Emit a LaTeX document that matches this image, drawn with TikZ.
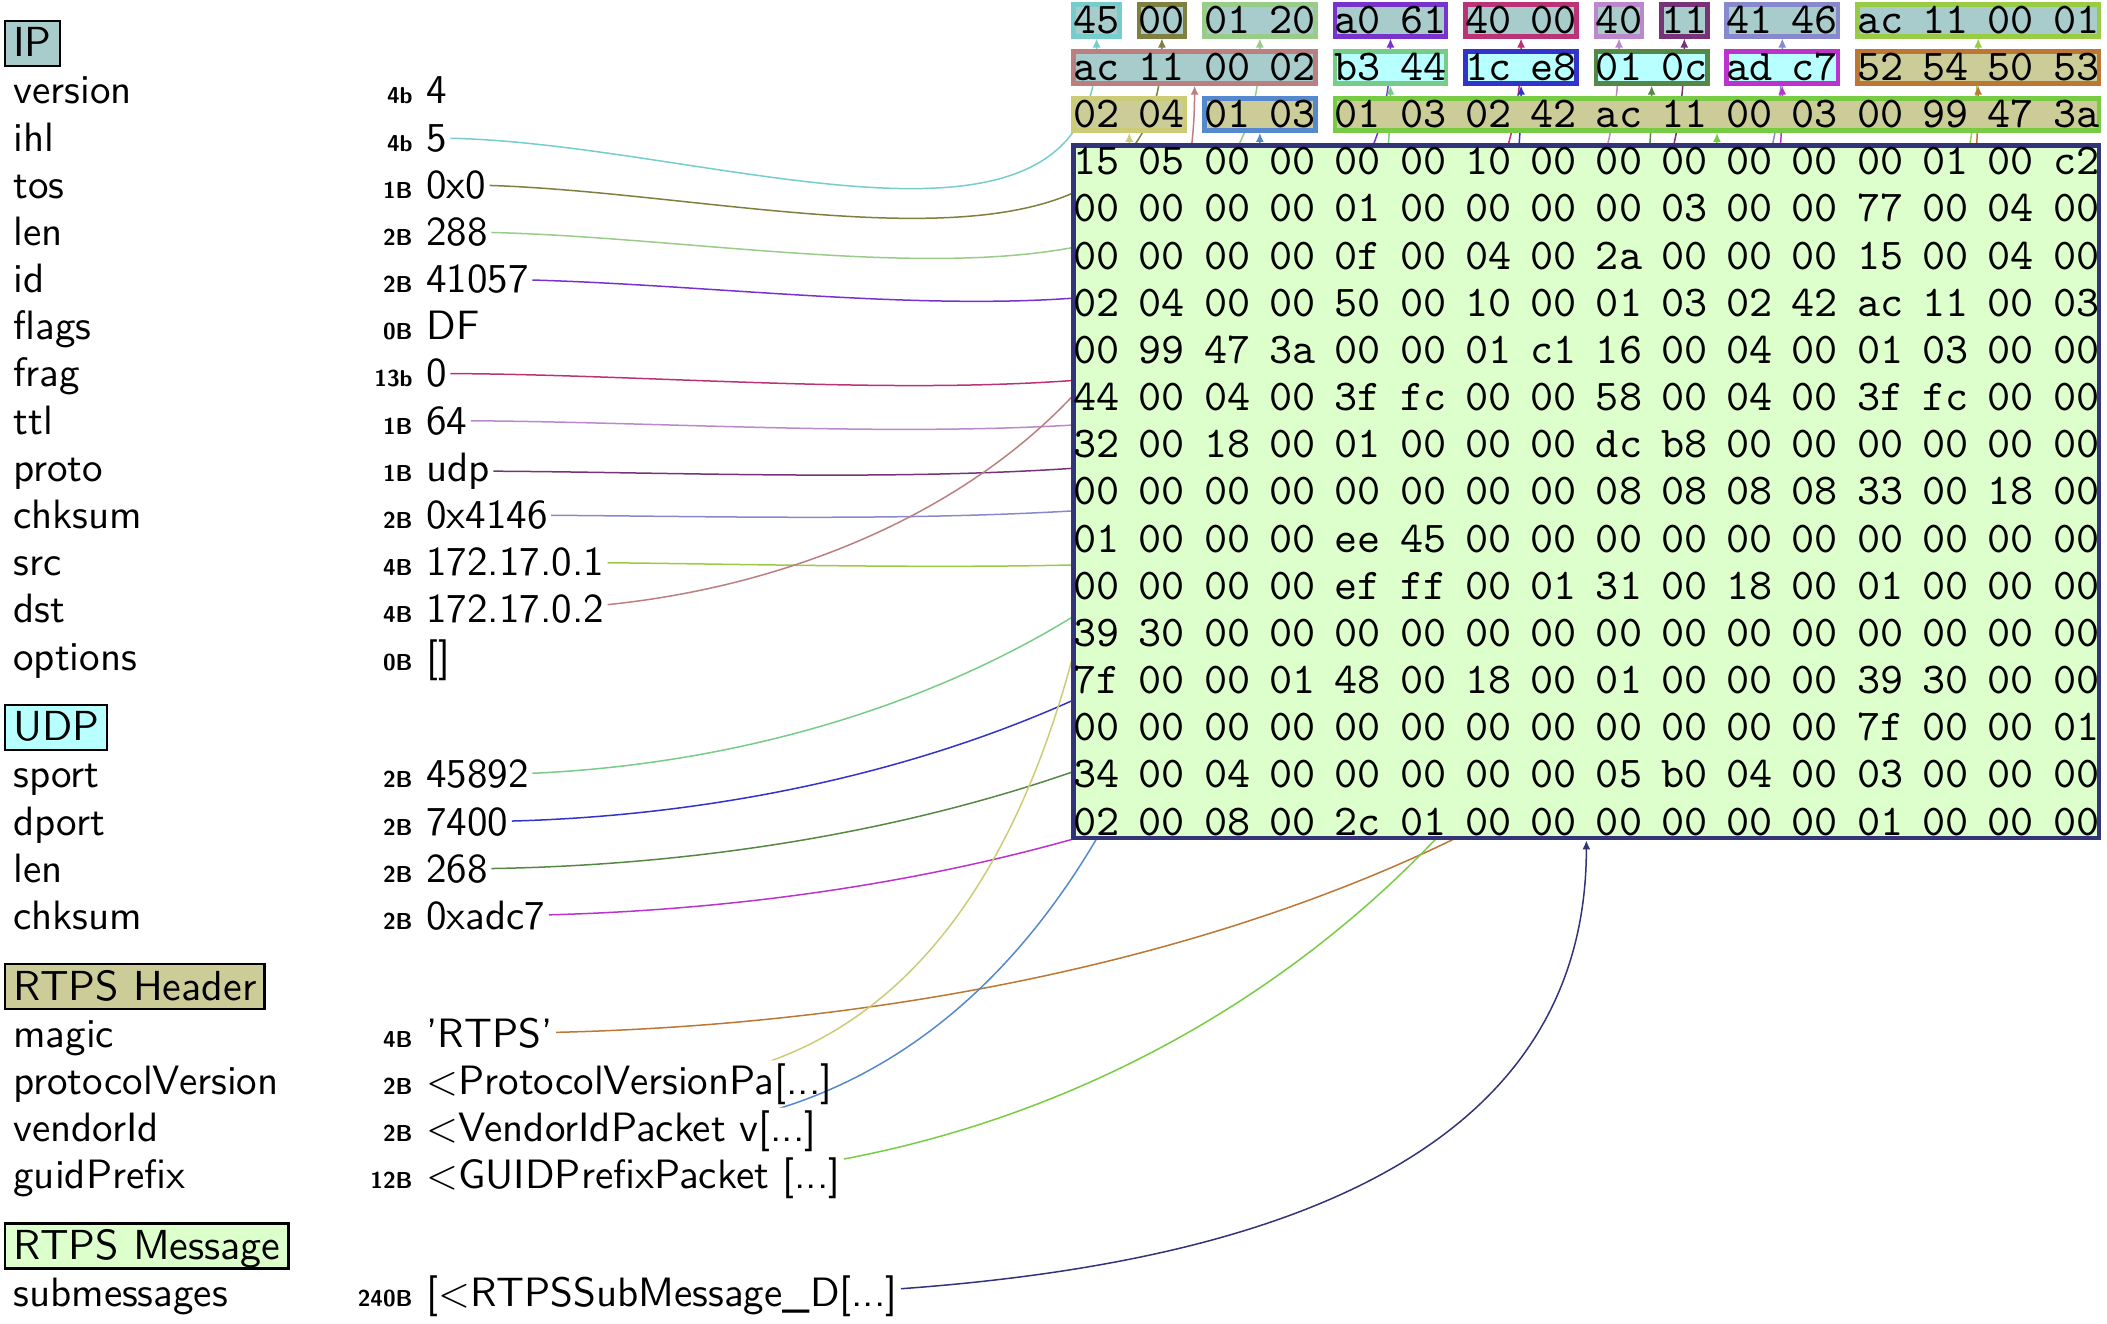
\documentclass[tikz,border=0pt]{standalone}
\usepackage{graphicx}
\usetikzlibrary{arrows.meta,backgrounds}
\definecolor{IpFill}{HTML}{A8CCCC}
\definecolor{UdpFill}{HTML}{B8FFFF}
\definecolor{HdrFill}{HTML}{CCCC99}
\definecolor{MsgFill}{HTML}{DDFFCC}
\definecolor{ColIhl}{HTML}{77CCCC}
\definecolor{ColTos}{HTML}{7F7F3F}
\definecolor{ColLen}{HTML}{99CC88}
\definecolor{ColId}{HTML}{7733CC}
\definecolor{ColFrag}{HTML}{BB3377}
\definecolor{ColTtl}{HTML}{BB88CC}
\definecolor{ColProto}{HTML}{773377}
\definecolor{ColChk}{HTML}{8888CC}
\definecolor{ColSrc}{HTML}{99CC44}
\definecolor{ColDst}{HTML}{BB7F7F}
\definecolor{ColSport}{HTML}{77CC88}
\definecolor{ColDport}{HTML}{3333CC}
\definecolor{ColUlen}{HTML}{558844}
\definecolor{ColUchk}{HTML}{BB33CC}
\definecolor{ColMagic}{HTML}{BB7733}
\definecolor{ColPver}{HTML}{CCCC77}
\definecolor{ColVend}{HTML}{5588CC}
\definecolor{ColGuid}{HTML}{77CC44}
\definecolor{ColSubm}{HTML}{333377}

% grid of the dump (one unit = one pixel)
\newcommand{\rowy}[1]{-(20.2+47.17*(#1))}
\newcommand{\rowb}[1]{-(33.2+47.17*(#1))}
\newcommand{\colx}[1]{(1096.6+65.3*(#1))}
% 10pt designs, blown up
\newcommand{\dumptxt}[1]{\scalebox{2.2}{#1}}
\newcommand{\labtxt}[1]{\scalebox{2.05}{#1}}
\newcommand{\layertxt}[1]{\scalebox{2.1}{#1}}

% frame round the bytes of one field: name, rows, columns, colour, fill
\newcommand{\hexfield}[7]{%
  \node[hexbox,draw=#6,fill=#7,
    minimum width={(32.65*(#5-#4)+23)*1pt},
    minimum height={(23.585*(#3-#2)+16)*1pt}]
    (h-#1) at ({\colx{(#4+#5)/2}},{\rowy{(#2+#3)/2}}) {};}

\tikzset{
  hexbox/.style={rectangle,line width=2.3pt,inner sep=0pt},
  hexbyte/.style={font=\ttfamily\fontsize{10}{10}\selectfont,anchor=base,inner sep=0pt},
  fieldname/.style={font=\sffamily\fontsize{10}{12}\selectfont,anchor=base west,inner sep=0pt},
  fieldsize/.style={font=\sffamily\bfseries\fontsize{11.5}{12}\selectfont,anchor=base east,inner sep=0pt},
  fieldval/.style={font=\sffamily\fontsize{10}{12}\selectfont,anchor=base west,inner sep=1.5pt},
  layertitle/.style={font=\sffamily\fontsize{10}{12}\selectfont,anchor=base west,draw=black,
    line width=1.2pt,inner xsep=4pt,inner ysep=0.5pt,text height=17.5pt,text depth=4pt},
  link/.style={line width=0.75pt,-{Latex[length=4.5pt,width=4pt]}}
}

\begin{document}
\begin{tikzpicture}[x=0.5pt,y=0.5pt]
  \useasboundingbox (0,0) rectangle (2107,-1323);

  % layers
  \node[layertitle,fill=IpFill] (t-ip) at (4,{\rowb{0.5}}) {\layertxt{IP}};
  \node[layertitle,fill=UdpFill] (t-udp) at (4,{\rowb{15}}) {\layertxt{UDP}};
  \node[layertitle,fill=HdrFill] (t-hdr) at (4,{\rowb{20.5}}) {\layertxt{RTPS Header}};
  \node[layertitle,fill=MsgFill] (t-msg) at (4,{\rowb{26}}) {\layertxt{RTPS Message}};

  % fields
  \foreach \krow/\fname/\fsize/\fval/\id in {
      1.5/version/4b/4/version, 2.5/ihl/4b/5/ihl, 3.5/tos/1B/0x0/tos,
      4.5/len/2B/288/len, 5.5/id/2B/41057/id, 6.5/flags/0B/DF/flags,
      7.5/frag/13b/0/frag, 8.5/ttl/1B/64/ttl, 9.5/proto/1B/udp/proto,
      10.5/chksum/2B/0x4146/chksum, 11.5/src/4B/172.17.0.1/src,
      12.5/dst/4B/172.17.0.2/dst, 13.5/options/0B/{[]}/options,
      16/sport/2B/45892/sport, 17/dport/2B/7400/dport,
      18/len/2B/268/ulen, 19/chksum/2B/0xadc7/uchk,
      21.5/magic/4B/{'RTPS'}/magic,
      22.5/protocolVersion/2B/{<ProtocolVersionPa[...]}/pver,
      23.5/vendorId/2B/{<VendorIdPacket v[...]}/vend,
      24.5/guidPrefix/12B/{<GUIDPrefixPacket [...]}/guid,
      27/submessages/240B/{[<RTPSSubMessage\_D[...]}/subm}{
    \node[fieldname] (n-\id) at (13,{\rowb{\krow}}) {\labtxt{\fname}};
    \node[fieldsize] (s-\id) at (413,{\rowb{\krow}}) {\fsize};
    \node[fieldval] (v-\id) at (423,{\rowb{\krow}}) {\labtxt{\fval}};
  }

  % frames of the dump
  \hexfield{ihl}{0}{0}{0}{0}{ColIhl}{IpFill}
  \hexfield{tos}{0}{0}{1}{1}{ColTos}{IpFill}
  \hexfield{len}{0}{0}{2}{3}{ColLen}{IpFill}
  \hexfield{id}{0}{0}{4}{5}{ColId}{IpFill}
  \hexfield{frag}{0}{0}{6}{7}{ColFrag}{IpFill}
  \hexfield{ttl}{0}{0}{8}{8}{ColTtl}{IpFill}
  \hexfield{proto}{0}{0}{9}{9}{ColProto}{IpFill}
  \hexfield{chksum}{0}{0}{10}{11}{ColChk}{IpFill}
  \hexfield{src}{0}{0}{12}{15}{ColSrc}{IpFill}
  \hexfield{dst}{1}{1}{0}{3}{ColDst}{IpFill}
  \hexfield{sport}{1}{1}{4}{5}{ColSport}{UdpFill}
  \hexfield{dport}{1}{1}{6}{7}{ColDport}{UdpFill}
  \hexfield{ulen}{1}{1}{8}{9}{ColUlen}{UdpFill}
  \hexfield{uchk}{1}{1}{10}{11}{ColUchk}{UdpFill}
  \hexfield{magic}{1}{1}{12}{15}{ColMagic}{HdrFill}
  \hexfield{pver}{2}{2}{0}{1}{ColPver}{HdrFill}
  \hexfield{vend}{2}{2}{2}{3}{ColVend}{HdrFill}
  \hexfield{guid}{2}{2}{4}{15}{ColGuid}{HdrFill}
  \hexfield{subm}{3}{17}{0}{15}{ColSubm}{MsgFill}

  % bytes
  \foreach \hexrow [count=\ri from 0] in {
      {45,00,01,20,a0,61,40,00,40,11,41,46,ac,11,00,01},
      {ac,11,00,02,b3,44,1c,e8,01,0c,ad,c7,52,54,50,53},
      {02,04,01,03,01,03,02,42,ac,11,00,03,00,99,47,3a},
      {15,05,00,00,00,00,10,00,00,00,00,00,00,01,00,c2},
      {00,00,00,00,01,00,00,00,00,03,00,00,77,00,04,00},
      {00,00,00,00,0f,00,04,00,2a,00,00,00,15,00,04,00},
      {02,04,00,00,50,00,10,00,01,03,02,42,ac,11,00,03},
      {00,99,47,3a,00,00,01,c1,16,00,04,00,01,03,00,00},
      {44,00,04,00,3f,fc,00,00,58,00,04,00,3f,fc,00,00},
      {32,00,18,00,01,00,00,00,dc,b8,00,00,00,00,00,00},
      {00,00,00,00,00,00,00,00,08,08,08,08,33,00,18,00},
      {01,00,00,00,ee,45,00,00,00,00,00,00,00,00,00,00},
      {00,00,00,00,ef,ff,00,01,31,00,18,00,01,00,00,00},
      {39,30,00,00,00,00,00,00,00,00,00,00,00,00,00,00},
      {7f,00,00,01,48,00,18,00,01,00,00,00,39,30,00,00},
      {00,00,00,00,00,00,00,00,00,00,00,00,7f,00,00,01},
      {34,00,04,00,00,00,00,00,05,b0,04,00,03,00,00,00},
      {02,00,08,00,2c,01,00,00,00,00,00,00,01,00,00,00}}{
    \foreach \byte [count=\ci from 0] in \hexrow
      \node[hexbyte] (b-\ri-\ci) at ({\colx{\ci}},{\rowb{\ri}}) {\dumptxt{\byte}};
  }

  % value -> bytes
  \begin{scope}[on background layer]
    \foreach \id/\cl in {ihl/ColIhl, tos/ColTos, len/ColLen, id/ColId, frag/ColFrag,
        ttl/ColTtl, proto/ColProto, chksum/ColChk, src/ColSrc, dst/ColDst,
        sport/ColSport, dport/ColDport, ulen/ColUlen, uchk/ColUchk,
        magic/ColMagic, pver/ColPver, vend/ColVend, guid/ColGuid, subm/ColSubm}{
      \begin{scope}
        \clip (-50,50) rectangle (2200,-1400) (v-\id.north east) rectangle (v-\id.south west);
        \draw[link,color=\cl] (v-\id.center) to[out=0,in=-90] (h-\id.south);
      \end{scope}
    }
  \end{scope}
\end{tikzpicture}
\end{document}
